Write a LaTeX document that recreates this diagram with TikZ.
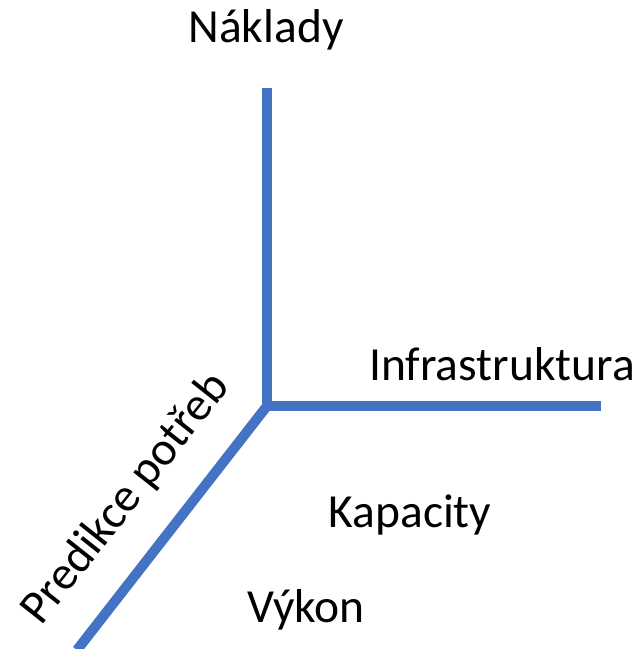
\documentclass[tikz,border=0pt]{standalone}
\usepackage{fontspec}
\setmainfont{Carlito}
\definecolor{axisblue}{HTML}{4472C4}
\begin{document}
\begin{tikzpicture}[x=1pt,y=-1pt,
  axis/.style={draw=axisblue,line width=10pt},
  lbl/.style={font=\fontsize{47.5}{56}\selectfont,inner sep=0pt,anchor=base}]
\useasboundingbox (0,0) rectangle (640,649);
\coordinate (o) at (267,406);
\coordinate (top) at (267,88);
\coordinate (right) at (601,406);
\coordinate (low) at (77,650);
\draw[axis] (top) -- (o) -- (right);
\draw[axis] (o) -- (low);
\node[lbl] (nak) at (266,42) {Náklady};
\node[lbl] (inf) at (502,380) {Infrastruktura};
\node[lbl] (kap) at (410,527) {Kapacity};
\node[lbl] (vyk) at (306,622) {Výkon};
\node[lbl,rotate=51.6] (pred) at (136,507) {Predikce potřeb};
\end{tikzpicture}
\end{document}
